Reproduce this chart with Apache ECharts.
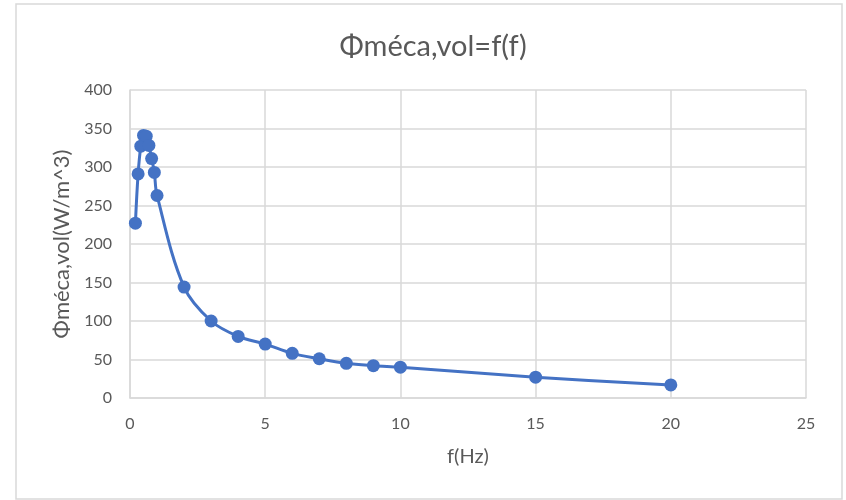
<!DOCTYPE html>
<html>
<head>
<meta charset="utf-8">
<script src="https://cdn.jsdelivr.net/npm/echarts@6/dist/echarts.min.js"></script>
<style>
  html, body { margin: 0; padding: 0; background: #fff; }
  #chart { width: 846px; height: 500px; }
</style>
</head>
<body>
<div id="chart"></div>
<script>
// Frequency (Hz) and mechanical volumetric power (W/m^3)
const freq = [0.2, 0.3, 0.4, 0.5, 0.6, 0.7, 0.8, 0.9, 1, 2, 3, 4, 5, 6, 7, 8, 9, 10, 15, 20];
const phi  = [227, 291, 327, 341, 340, 328, 311, 293, 263, 144, 100, 80, 70, 58, 51, 45, 42, 40, 27, 17];
const xTicks = [0, 5, 10, 15, 20, 25];
const yTicks = [0, 50, 100, 150, 200, 250, 300, 350, 400];

const chartTitle = 'Φméca,vol=f(f)';
const xName = 'f(Hz)';
const yName = 'Φméca,vol(W/m^3)';

const font = 'Lato, "Open Sans", sans-serif';
const textGrey = '#595959';
const gridGrey = '#d9d9d9';
const blue = '#4472c4';

const chart = echarts.init(document.getElementById('chart'), null, { renderer: 'canvas' });

chart.setOption({
  animation: false,
  backgroundColor: '#fff',
  graphic: [{
    type: 'rect',
    shape: { x: 16, y: 4, width: 826, height: 495 },
    style: { fill: 'none', stroke: gridGrey, lineWidth: 1.5 },
    silent: true
  }],
  title: {
    text: chartTitle,
    left: 428,
    top: 27,
    textAlign: 'center',
    textStyle: { fontFamily: font, fontSize: 29, fontWeight: 'normal', color: textGrey }
  },
  grid: { left: 130, right: 40, top: 90, bottom: 102 },
  xAxis: {
    type: 'value',
    min: xTicks[0],
    max: xTicks[xTicks.length - 1],
    interval: xTicks[1] - xTicks[0],
    name: xName,
    nameLocation: 'middle',
    nameGap: 49,
    nameTextStyle: { fontFamily: font, fontSize: 20, color: textGrey },
    axisLine: { show: true, lineStyle: { color: gridGrey, width: 1.5 } },
    axisTick: { show: false },
    axisLabel: { fontFamily: font, fontSize: 16, color: textGrey, margin: 18 },
    splitLine: { show: true, lineStyle: { color: gridGrey, width: 1.5 } }
  },
  yAxis: {
    type: 'value',
    min: yTicks[0],
    max: yTicks[yTicks.length - 1],
    interval: yTicks[1] - yTicks[0],
    name: yName,
    nameLocation: 'middle',
    nameGap: 57,
    nameTextStyle: { fontFamily: font, fontSize: 22, color: textGrey },
    axisLine: { show: true, lineStyle: { color: gridGrey, width: 1.5 } },
    axisTick: { show: false },
    axisLabel: { fontFamily: font, fontSize: 16, color: textGrey, margin: 18 },
    splitLine: { show: true, lineStyle: { color: gridGrey, width: 1.5 } }
  },
  series: [{
    type: 'line',
    data: freq.map((f, i) => [f, phi[i]]),
    smooth: 0.35,
    symbol: 'circle',
    symbolSize: 13,
    lineStyle: { color: blue, width: 3 },
    itemStyle: { color: blue }
  }]
});
</script>
</body>
</html>
